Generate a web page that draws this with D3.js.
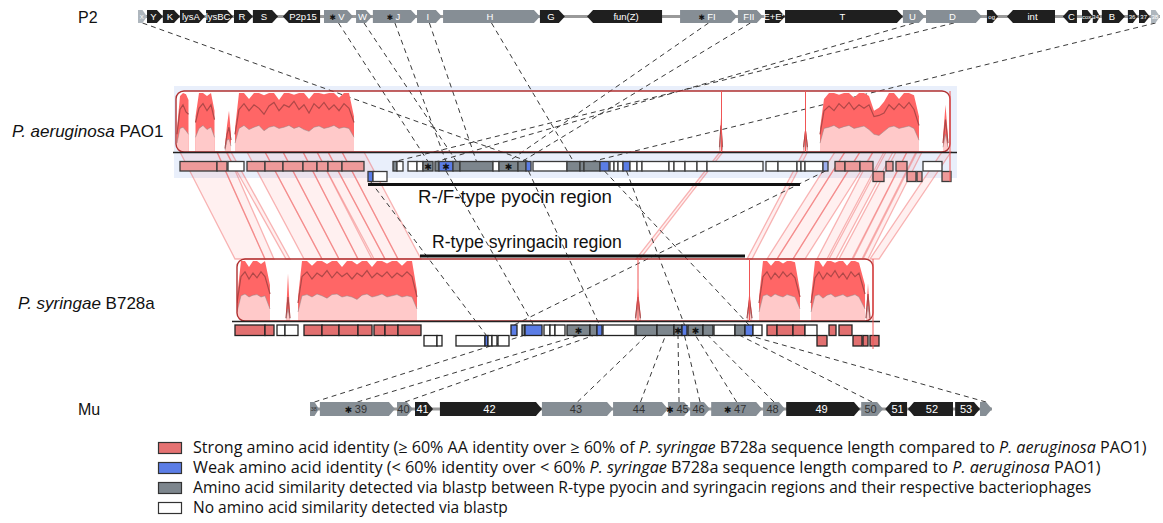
<!DOCTYPE html>
<html><head><meta charset="utf-8">
<script src="https://cdn.jsdelivr.net/npm/d3@7"></script>
<style>body{margin:0;background:#fff}svg{display:block;font-family:"Liberation Sans",Arial,sans-serif}</style>
</head><body><svg id="c" width="1163" height="523"></svg>
<script>
// ---------------- DATA ----------------
// P2 genes: [name, startKb, endKb, strand, kind]  kind: b=black, g=gray, l=light
const p2Genes = [
["X",0,0.3,1,"l"],["Y",0.3,0.83,1,"b"],["K",0.83,1.4,1,"b"],["lysA",1.4,2.23,1,"b"],["lysBC",2.27,3.17,1,"b"],
["R",3.2,3.83,1,"b"],["S",3.83,4.67,1,"b"],["P2p15",4.83,6.07,-1,"b"],["V",6.2,7.17,1,"g"],["W",7.27,7.8,1,"g"],
["J",7.83,9.3,1,"g"],["I",9.3,10.13,1,"g"],["H",10.17,13.4,1,"g"],["G",13.4,14.23,1,"b"],["fun(Z)",14.97,17.47,-1,"b"],
["FI",18.07,19.97,1,"g"],["FII",20,20.83,1,"g"],["E+E'",20.9,21.57,1,"b"],["T",21.57,25.5,1,"b"],["U",25.5,26.23,1,"g"],
["D",26.27,28.13,1,"g"],["og",28.3,28.67,1,"b"],["int",28.97,30.57,-1,"b"],["C",30.83,31.3,-1,"b"],["cox",31.47,31.83,1,"b"],
["34",31.83,32.07,1,"b"],["B",32.13,32.9,1,"b"],["36",33,33.33,1,"b"],["37",33.37,33.73,1,"b"],["38",33.77,34.07,1,"l"]
];
const p2Starred = ["V","J","FI"];
const p2Length = 34.07;

// Mu genes
const muGenes = [
["38",0,0.3,1,"g"],["39",0.33,2.83,1,"g"],["40",2.9,3.43,1,"g"],["41",3.5,4.1,1,"b"],["42",4.33,7.73,1,"b"],
["43",7.73,10.1,1,"g"],["44",10.1,11.93,1,"g"],["45",11.93,12.67,1,"g"],["46",12.67,13.33,1,"g"],["47",13.37,15.07,1,"g"],
["48",15.1,15.83,1,"g"],["49",15.87,18.33,1,"b"],["50",18.37,19.1,1,"g"],["51",19.17,19.9,-1,"b"],["52",19.93,21.43,-1,"b"],
["53",21.5,22.33,1,"b"],["",22.33,22.73,1,"g"]
];
const muStarred = ["39","45","47"];
const muLength = 22.73;

// PAO1 region genes: [startKb, endKb, row, kind, star]  kind: r=strong, b=weak, lb=weak(light), g=blastp, w=none
const pao1Genes = [
[0.6,4.3,0,"r"],[4.3,5.3,0,"r"],[5.4,7.0,0,"w"],[7.3,9.1,0,"r"],[9.1,10.9,0,"r"],[10.9,12.9,0,"r"],[12.9,14.3,0,"r"],
[14.3,15.4,0,"r"],[15.4,16.8,0,"r"],[16.8,19.0,0,"r"],[19.4,19.9,1,"b"],[19.9,21.3,1,"w"],
[21.9,22.3,0,"g"],[22.3,22.9,0,"w"],[23.4,24.3,0,"w"],[24.3,24.9,0,"w"],[24.9,25.9,0,"g",1],[26.1,26.5,0,"g"],
[26.5,27.9,0,"b",1],[27.9,28.6,0,"g"],[28.6,31.9,0,"g"],[31.9,32.5,0,"w"],[32.5,34.4,0,"g",1],[34.4,35.2,0,"g"],
[35.2,35.7,0,"b"],[35.9,39.3,0,"w"],[39.3,40.6,0,"g"],[40.6,41.0,0,"g"],[41.0,42.6,0,"g"],[42.6,43.5,0,"b"],
[43.6,44.0,0,"w"],[44.0,44.4,0,"w"],[44.4,44.9,0,"w"],[44.9,45.6,0,"b"],[45.6,46.3,0,"w"],[46.3,46.8,0,"w"],
[46.8,49.5,0,"w"],[49.5,50.0,0,"w"],[50.0,51.1,0,"w"],[51.1,52.3,0,"w"],[52.3,53.3,0,"w"],[53.3,58.9,0,"w"],
[59.2,60.4,0,"w"],[60.4,62.3,0,"w"],[62.3,62.7,0,"w"],[62.7,63.1,0,"w"],[63.1,64.9,0,"w"],[64.9,65.4,0,"lb"],
[66.1,67.1,0,"r"],[67.1,68.6,0,"r"],[68.6,69.9,0,"r"],[69.9,71.0,1,"r"],[71.2,71.9,0,"r"],[72.2,73.3,0,"r"],
[73.3,74.2,1,"r"],[74.3,74.8,1,"r"],[74.9,76.8,0,"w"],[76.8,77.7,1,"r"]
];
const pao1Length = 78.3;

// B728a region genes
const b728Genes = [
[0.3,3.3,0,"r"],[3.3,4.2,0,"r"],[4.5,5.3,0,"w"],[5.3,6.6,0,"w"],[7.2,9.0,0,"r"],[9.0,10.7,0,"r"],[10.7,12.6,0,"r"],
[12.6,14.0,0,"r"],[14.2,15.3,0,"r"],[15.3,16.6,0,"r"],[16.6,18.9,0,"r"],
[19.2,20.5,1,"w"],[20.5,21.0,1,"w"],[22.4,25.3,1,"w"],[25.3,25.6,1,"b"],[25.6,26.0,1,"w"],[26.0,26.5,1,"w"],[26.6,27.7,1,"w"],
[27.9,28.5,0,"b"],[29.0,29.3,0,"g"],[29.3,31.0,0,"b"],[31.2,31.8,0,"w"],[31.8,32.3,0,"w"],[32.3,33.3,0,"w"],
[33.5,35.8,0,"g",1],[35.8,36.5,0,"g"],[36.5,37.0,0,"b"],[37.1,40.3,0,"w"],[40.4,42.5,0,"g"],[42.5,44.2,0,"g"],
[44.2,45.0,0,"g",1],[45.0,45.5,0,"b"],[45.6,47.1,0,"g",1],[47.1,48.1,0,"g"],[48.2,50.3,0,"w"],[50.3,51.3,0,"g"],
[51.3,52.1,0,"b"],[52.1,53.0,0,"w"],[53.5,54.5,0,"r"],[54.5,56.1,0,"r"],[56.1,57.3,0,"r"],[57.3,58.5,0,"w"],
[58.5,59.5,1,"r"],[59.7,60.4,0,"r"],[60.7,62.0,0,"r"],[62.1,63.0,1,"r"],[63.1,63.6,1,"r"],[63.8,64.7,1,"r"]
];
const b728Length = 64.8;

// identity windows: [kb, max%, mean%, lower%]  (null = gap)
const pao1Identity = [
[0.3,40,30,15],[0.6,95,72,40],[0.9,100,80,42],[1.2,98,68,36],[1.45,88,64,30],[1.5,null],
[2.15,60,50,25],[2.5,100,74,40],[2.9,100,82,45],[3.3,95,70,38],[3.7,100,80,42],[4.05,70,55,25],[4.1,null],
[5.1,12,6,3],[5.3,45,30,20],[5.5,70,42,22],[5.7,30,20,10],[5.8,null],
[6.1,40,30,15],[6.5,100,72,40],[7.0,100,82,45],[7.5,90,70,38],[8.0,100,80,42],[8.5,100,74,45],[9.0,96,64,36],
[9.5,100,78,42],[10.0,100,84,44],[10.5,88,70,40],[11.0,100,80,42],[11.5,100,76,45],[12.0,97,86,40],
[12.5,100,72,43],[13.0,100,80,38],[13.5,90,66,35],[14.0,100,82,42],[14.5,100,74,44],[15.0,98,84,40],
[15.5,100,72,42],[16.0,100,80,45],[16.5,92,70,40],[17.0,100,82,42],[17.5,100,74,40],[18.0,60,50,25],[18.1,null],
[54.55,15,8,4],[54.7,58,45,30],[54.85,15,8,4],[54.9,null],
[62.95,15,8,4],[63.15,44,35,22],[63.35,15,8,4],[63.4,null],
[64.6,40,30,15],[65.0,90,70,40],[65.5,100,78,42],[66.0,100,70,45],[66.5,97,82,40],[67.0,100,74,43],
[67.5,100,84,45],[68.0,92,72,40],[68.5,100,80,42],[69.0,100,74,44],[69.5,95,80,38],[70.0,70,60,30],
[70.5,75,62,28],[71.0,85,66,35],[71.5,100,80,42],[72.0,100,72,44],[72.5,90,82,40],[73.0,100,74,42],
[73.5,100,84,44],[74.0,96,72,40],[74.5,60,45,20],[74.6,null],
[76.9,25,15,8],[77.15,80,55,30],[77.4,25,15,8]
];
const b728Identity = [
[0.5,40,30,15],[0.9,100,74,42],[1.3,100,82,45],[1.7,90,70,40],[2.1,100,80,43],[2.5,100,72,44],[2.9,95,82,40],
[3.3,100,74,42],[3.8,60,45,20],[3.85,null],
[5.4,10,5,3],[5.6,79,40,20],[5.8,10,5,3],[5.85,null],
[6.6,40,30,15],[7.0,100,74,42],[7.5,100,82,44],[8.0,92,70,40],[8.5,100,80,45],[9.0,100,74,42],[9.5,95,84,38],
[10.0,100,72,44],[10.5,100,82,45],[11.0,90,74,40],[11.5,100,80,42],[12.0,100,70,40],[12.5,94,80,36],
[13.0,100,74,43],[13.5,100,84,45],[14.0,90,72,40],[14.5,100,80,42],[15.0,100,74,45],[15.5,96,82,40],
[16.0,100,72,42],[16.5,100,80,44],[17.0,92,74,40],[17.5,100,82,42],[18.0,100,74,40],[18.5,50,40,20],[18.55,null],
[40.35,10,5,3],[40.6,55,40,25],[40.85,10,5,3],[40.9,null],
[51.5,10,5,3],[51.75,50,35,22],[52.0,10,5,3],[52.05,null],
[52.7,40,30,15],[53.1,100,74,42],[53.5,100,82,44],[53.9,92,70,40],[54.3,100,80,45],[54.7,100,72,42],
[55.1,96,82,40],[55.5,100,74,44],[55.9,100,80,42],[56.3,98,72,40],[56.8,50,40,20],[56.85,null],
[57.9,40,30,15],[58.3,100,72,42],[58.7,100,82,44],[59.1,90,70,38],[59.5,100,80,43],[59.9,100,74,45],
[60.3,97,84,40],[60.7,100,72,42],[61.1,100,80,44],[61.5,92,70,40],[61.9,100,82,42],[62.3,100,74,44],
[62.7,97,80,40],[63.3,60,45,20],[63.35,null],
[63.4,10,5,3],[63.6,63,45,25],[63.8,10,5,3]
];

// strong-identity ribbons: [PAO1 start, PAO1 end, B728a start, B728a end] (kb)
const ribbons = [
[0.6,4.3,0.3,3.3],[4.3,5.3,3.3,4.2],[5.2,5.7,5.4,5.8],[7.3,9.1,7.2,9.0],[9.1,10.9,9.0,10.7],[10.9,12.9,10.7,12.6],
[12.9,14.3,12.6,14.0],[14.3,15.4,14.2,15.3],[15.4,16.8,15.3,16.6],[16.8,19.0,16.6,18.9],
[54.6,54.9,40.4,40.8],[62.95,63.35,51.5,52.0],
[66.1,67.1,53.5,54.5],[67.1,68.6,54.5,56.1],[68.6,69.9,56.1,57.3],[69.9,71.0,58.5,59.5],[71.2,71.9,59.7,60.4],
[72.2,73.3,60.7,62.0],[73.3,74.2,62.1,63.0],[74.3,74.8,63.1,63.6],[76.8,77.7,63.8,64.7]
];
const pao1Marks = [[54.75,0],[63.15,0],[77.6,1]];
const b728Marks = [[40.6,0],[51.75,0],[64.1,1]];

// blastp links
const p2Links = [["X",35.45],["V",25.4],["W",28.25],["J",27.2],["I",30.25],["H",39.95],["FI",33.45],["FII",34.8],["U",26.3],["D",22.1],["38",41.8]];
const muLinks = [["38",29.15],["39",34.65],["40",36.15],["43",41.45],["44",43.35],["45",44.6],["46",45.25],["47",46.35],["48",47.6],["50",50.8],["",51.7]];
// weak links PAO1 -> B728a: [PAO1 kb, row, B728a kb, row]
const weakLinks = [[19.65,1,25.45,1],[27.2,0,30.15,0],[35.45,0,36.75,0],[43.05,0,51.7,0],[45.25,0,45.25,0],[65.15,0,28.2,0]];

const pyocinRegion = [19.4, 62.6];
const syringacinRegion = [18.8, 51.3];
const regionLabels = ["R-/F-type pyocin region","R-type syringacin region"];

const legendItems = [
 {kind:"r", parts:[["Strong amino acid identity (≥ 60% AA identity over ≥ 60% of ",0],["P. syringae",1],[" B728a sequence length compared to ",0],["P. aeruginosa",1],[" PAO1)",0]], w:954},
 {kind:"b", parts:[["Weak amino acid identity (< 60% identity over < 60% ",0],["P. syringae",1],[" B728a sequence length compared to ",0],["P. aeruginosa",1],[" PAO1)",0]], w:908},
 {kind:"g", parts:[["Amino acid similarity detected via blastp between R-type pyocin and syringacin regions and their respective bacteriophages",0]], w:899},
 {kind:"w", parts:[["No amino acid similarity detected via blastp",0]], w:315}
];

// ---------------- DRAWING ----------------
const svg = d3.select("#c");
const xP2 = d3.scaleLinear().domain([0,p2Length]).range([138,1160]);
const xMu = d3.scaleLinear().domain([0,muLength]).range([310,992]);
const xPA = d3.scaleLinear().domain([0,pao1Length]).range([174,957]);
const xPS = d3.scaleLinear().domain([0,b728Length]).range([232,880]);
const yPA = d3.scaleLinear().domain([0,100]).range([152,93]);
const yPS = d3.scaleLinear().domain([0,100]).range([321,261]);

const P2Y = 16.5, P2H = 13, MUY = 409, MUH = 14;
const PA = {top:91, base:152, rows:[[161.5,9.5],[171.5,10]], x:xPA, y:yPA, box:[0.2,77.6]};
const PS = {top:259, base:321, rows:[[325,10.5],[335.5,10.5]], x:xPS, y:yPS, box:[0.5,64.1]};

const fills = {r:"#e57272", b:"#5b7de6", lb:"#9eaeee", g:"#7d868d", w:"#ffffff"};
const phageFill = {b:"#1f1f1f", g:"#868e95", l:"#aeb6bd"};

// PAO1 background panel
svg.append("rect").attr("x",xPA(0)).attr("y",86).attr("width",xPA(pao1Length)-xPA(0)).attr("height",92).attr("fill","#e9effb");

// identity boxes white
[PA,PS].forEach(T=>{
  svg.append("rect").attr("x",T.x(T.box[0])).attr("y",T.top).attr("width",T.x(T.box[1])-T.x(T.box[0]))
    .attr("height",T.base-T.top).attr("rx",8).attr("fill","#fff");
});

// ribbons
const gR = svg.append("g");
ribbons.forEach(r=>{
  const pts = [[xPA(r[0]),PA.base],[xPA(r[1]),PA.base],[xPS(r[3]),PS.top],[xPS(r[2]),PS.top]];
  gR.append("path").attr("d","M"+pts.map(p=>p.join(",")).join("L")+"Z")
    .attr("fill","rgba(255,140,140,0.13)").attr("stroke","rgba(240,95,95,0.45)").attr("stroke-width",1.3);
});

// dashed links
const gL = svg.append("g").attr("fill","none").attr("stroke","#3a3a3a").attr("stroke-width",1).attr("stroke-dasharray","5,4");
function geneMid(list,name){const g=list.find(d=>d[0]===name);return (g[1]+g[2])/2;}
p2Links.forEach(l=>{
  gL.append("line").attr("x1",xP2(geneMid(p2Genes,l[0]))).attr("y1",P2Y+P2H/2)
    .attr("x2",xPA(l[1])).attr("y2",PA.rows[0][0]);
});
muLinks.forEach(l=>{
  gL.append("line").attr("x1",xMu(geneMid(muGenes,l[0]))).attr("y1",MUY-MUH/2)
    .attr("x2",xPS(l[1])).attr("y2",PS.rows[0][0]+PS.rows[0][1]);
});
weakLinks.forEach(l=>{
  gL.append("line").attr("x1",xPA(l[0])).attr("y1",PA.rows[l[1]][0]+PA.rows[l[1]][1])
    .attr("x2",xPS(l[2])).attr("y2",PS.rows[l[3]][0]);
});

// identity plots
function drawIdentity(T,data,id){
  svg.append("clipPath").attr("id",id).append("rect")
    .attr("x",T.x(T.box[0])).attr("y",T.top).attr("width",T.x(T.box[1])-T.x(T.box[0])).attr("height",T.base-T.top).attr("rx",8);
  const g = svg.append("g").attr("clip-path","url(#"+id+")");
  const def = d=>d[1]!=null;
  g.append("path").attr("d",d3.area().defined(def).x(d=>T.x(d[0])).y0(T.y(0)).y1(d=>T.y(d[1]))(data)).attr("fill","#ff6666");
  g.append("path").attr("d",d3.area().defined(def).x(d=>T.x(d[0])).y0(T.y(0)).y1(d=>T.y(d[3]))(data)).attr("fill","#ffc9c9");
  g.append("path").attr("d",d3.line().defined(def).x(d=>T.x(d[0])).y(d=>T.y(d[2]))(data))
    .attr("fill","none").attr("stroke","#b04848").attr("stroke-width",1.2);
  g.append("path").attr("d",d3.line().defined(def).x(d=>T.x(d[0])).y(d=>T.y(Math.min(d[1],d[3])))(data))
    .attr("fill","none").attr("stroke","rgba(140,140,140,0.5)").attr("stroke-width",1);
  svg.append("rect").attr("x",T.x(T.box[0])).attr("y",T.top).attr("width",T.x(T.box[1])-T.x(T.box[0]))
    .attr("height",T.base-T.top).attr("rx",8).attr("fill","none").attr("stroke","#b03030").attr("stroke-width",1.4);
}
drawIdentity(PA,pao1Identity,"cpa");
drawIdentity(PS,b728Identity,"cps");

// baselines
svg.append("line").attr("x1",xPA(0)-1).attr("x2",xPA(pao1Length)).attr("y1",PA.base+0.5).attr("y2",PA.base+0.5).attr("stroke","#222").attr("stroke-width",1.3);
svg.append("line").attr("x1",xPS(0)).attr("x2",xPS(b728Length)).attr("y1",PS.base+0.5).attr("y2",PS.base+0.5).attr("stroke","#222").attr("stroke-width",1.3);

// region genes
function drawGenes(T,list,redFill,stroke){
  const g = svg.append("g");
  list.forEach(d=>{
    const r = T.rows[d[2]];
    g.append("rect").attr("x",T.x(d[0])).attr("y",r[0]).attr("width",T.x(d[1])-T.x(d[0])).attr("height",r[1])
      .attr("fill",d[3]==="r"?redFill:fills[d[3]]).attr("stroke",stroke).attr("stroke-width",1.3);
    if(d[4]) g.append("text").attr("x",(T.x(d[0])+T.x(d[1]))/2).attr("y",r[0]+r[1]/2+3.5)
      .attr("text-anchor","middle").attr("font-family","DejaVu Sans").attr("font-size",9).attr("fill","#111").text("✱");
  });
}
drawGenes(PA,pao1Genes,"#ee9a9a","#3a3a3a");
drawGenes(PS,b728Genes,"#e27070","#222");

// identity position marks
pao1Marks.forEach(m=>svg.append("line").attr("x1",xPA(m[0])).attr("x2",xPA(m[0])).attr("y1",PA.top).attr("y2",m[1]?PA.rows[1][0]+PA.rows[1][1]:PA.base).attr("stroke","#f05555").attr("stroke-width",1));
b728Marks.forEach(m=>svg.append("line").attr("x1",xPS(m[0])).attr("x2",xPS(m[0])).attr("y1",PS.top).attr("y2",m[1]?PS.rows[1][0]+PS.rows[1][1]+3:PS.base).attr("stroke","#f05555").attr("stroke-width",1));

// region bars and labels (fitted to the reference text widths)
function fitText(sel,target){const len=sel.node().getComputedTextLength();sel.attr("font-size",16*target/len);}
svg.append("line").attr("x1",xPA(pyocinRegion[0])).attr("x2",xPA(pyocinRegion[1])).attr("y1",184.5).attr("y2",184.5).attr("stroke","#111").attr("stroke-width",3);
fitText(svg.append("text").attr("x",418).attr("y",203).attr("font-size",16).attr("fill","#111").text(regionLabels[0]),194);
svg.append("line").attr("x1",xPS(syringacinRegion[0])).attr("x2",xPS(syringacinRegion[1])).attr("y1",256).attr("y2",256).attr("stroke","#111").attr("stroke-width",3);
fitText(svg.append("text").attr("x",432).attr("y",248).attr("font-size",16).attr("fill","#111").text(regionLabels[1]),190);

// phage tracks
function arrow(x1,x2,yc,h,strand){
  const head = Math.min(6,(x2-x1)*0.5);
  if(strand>0) return `M${x1},${yc-h/2}L${x2-head},${yc-h/2}L${x2},${yc}L${x2-head},${yc+h/2}L${x1},${yc+h/2}Z`;
  return `M${x2},${yc-h/2}L${x1+head},${yc-h/2}L${x1},${yc}L${x1+head},${yc+h/2}L${x2},${yc+h/2}Z`;
}
function drawPhage(list,x,yc,h,starred,len,opts){
  const g = svg.append("g");
  g.append("line").attr("x1",x(0)).attr("x2",x(len)).attr("y1",yc).attr("y2",yc).attr("stroke","#9a9a9a").attr("stroke-width",3);
  list.forEach(d=>{
    const x1=x(d[1]), x2=x(d[2]);
    g.append("path").attr("d",arrow(x1,x2,yc,h,d[3])).attr("fill",phageFill[d[4]]);
    if(!d[0]) return;
    const w = x2-x1;
    const small = w < opts.minW;
    const fs = small ? opts.small : opts.fs;
    const cx = (x1+x2)/2 - (d[3]>0?1.5:-1.5)*(small?0.5:1);
    const t = g.append("text").attr("x",cx).attr("y",yc+fs*0.36).attr("text-anchor","middle").attr("font-size",fs);
    const labFill = d[4]==="b" ? "#fff" : opts.grayLab;
    if(starred.includes(d[0])){
      t.append("tspan").attr("font-family","DejaVu Sans").attr("font-size",fs*0.8).attr("fill","#111").text("✱ ");
    }
    t.append("tspan").attr("fill",labFill).text(d[0]);
  });
}
drawPhage(p2Genes,xP2,P2Y,P2H,p2Starred,p2Length,{fs:9.5,small:6,grayLab:"#fff",minW:13});
drawPhage(muGenes,xMu,MUY,MUH,muStarred,muLength,{fs:11,small:5.5,grayLab:"#333",minW:12});

// track labels
svg.append("text").attr("x",78).attr("y",23).attr("font-size",16).attr("fill","#111").text("P2");
svg.append("text").attr("x",78).attr("y",415).attr("font-size",16).attr("fill","#111").text("Mu");
const t1 = svg.append("text").attr("x",12).attr("y",137).attr("font-size",17).attr("fill","#111");
t1.append("tspan").attr("font-style","italic").text("P. aeruginosa");
t1.append("tspan").text(" PAO1");
const t2 = svg.append("text").attr("x",18).attr("y",309).attr("font-size",17).attr("fill","#111");
t2.append("tspan").attr("font-style","italic").text("P. syringae");
t2.append("tspan").text(" B728a");

// legend
legendItems.forEach((it,i)=>{
  const y = 442 + i*20;
  svg.append("rect").attr("x",158.5).attr("y",y+0.5).attr("width",23).attr("height",11)
    .attr("fill",fills[it.kind]).attr("stroke","#333").attr("stroke-width",1.2);
  const t = svg.append("text").attr("x",193).attr("y",y+11).attr("font-family","Open Sans").attr("font-size",15).attr("fill","#111");
  it.parts.forEach(p=>t.append("tspan").attr("font-style",p[1]?"italic":"normal").text(p[0]));
  const len = t.node().getComputedTextLength();
  t.attr("font-size",15*it.w/len);
});
</script></body></html>
